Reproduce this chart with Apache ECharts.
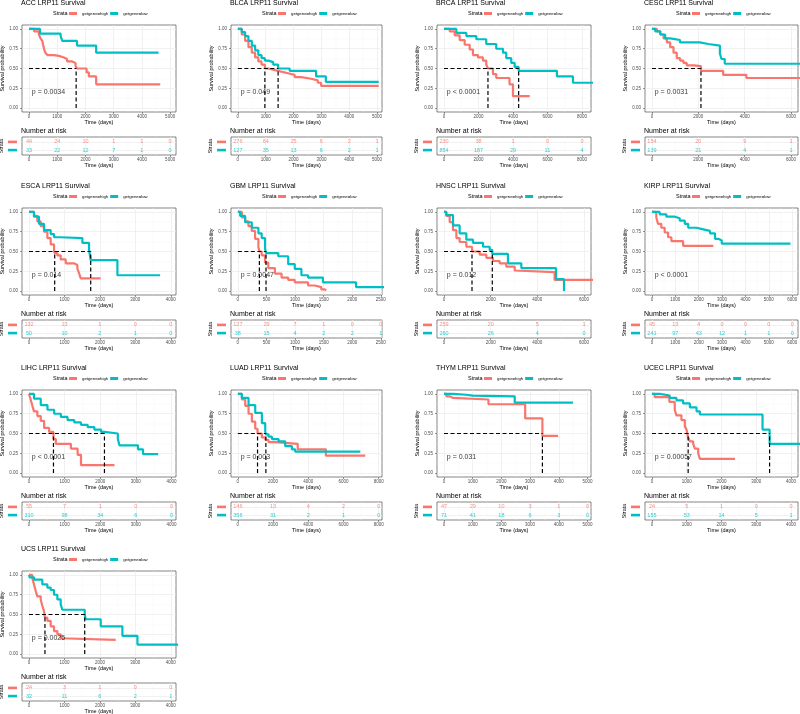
<!DOCTYPE html>
<html>
<head>
<meta charset="utf-8">
<script src="https://cdn.jsdelivr.net/npm/echarts@6/dist/echarts.min.js"></script>
<style>
  html, body { margin: 0; padding: 0; background: #fff; }
  #chart { width: 800px; height: 714px; }
</style>
</head>
<body>
<div id="chart"></div>
<script>
// ---- data ----
const cancers = ['ACC', 'BLCA', 'BRCA', 'CESC', 'ESCA', 'GBM', 'HNSC', 'KIRP', 'LIHC', 'LUAD', 'THYM', 'UCEC', 'UCS'];
const pValues = ['p = 0.0034', 'p = 0.049', 'p < 0.0001', 'p = 0.0031', 'p = 0.014', 'p = 0.0047', 'p = 0.012',
  'p < 0.0001', 'p < 0.0001', 'p = 0.003', 'p = 0.031', 'p = 0.00057', 'p = 0.0025'];
const groupNames = ['getgene=high', 'getgene=low'];

// upper limit of follow-up time in each panel (days)
const timeLimits = [4960, 4930, 8120, 6000, 3950, 2400, 6000, 5950, 3930, 7800, 4880, 4000, 3950];
const timeBreaks = [
  [0, 1000, 2000, 3000, 4000, 5000],
  [0, 1000, 2000, 3000, 4000, 5000],
  [0, 2000, 4000, 6000, 8000],
  [0, 2000, 4000, 6000],
  [0, 1000, 2000, 3000, 4000],
  [0, 500, 1000, 1500, 2000, 2500],
  [0, 2000, 4000, 6000],
  [0, 1000, 2000, 3000, 4000, 5000, 6000],
  [0, 1000, 2000, 3000, 4000],
  [0, 2000, 4000, 6000, 8000],
  [0, 1000, 2000, 3000, 4000, 5000],
  [0, 1000, 2000, 3000, 4000],
  [0, 1000, 2000, 3000, 4000]
];
const probBreaks = [0, 0.25, 0.5, 0.75, 1];

// Kaplan-Meier curves: [time, survival]
const accHigh = [[0,1],[180,0.97],[350,0.93],[410,0.88],[470,0.85],[500,0.80],[540,0.74],[580,0.70],[650,0.67],[880,0.66],[1060,0.64],[1240,0.62],[1350,0.59],[1530,0.57],[1650,0.53],[1700,0.50],[2040,0.45],[2120,0.40],[2380,0.30],[4650,0.30]];
const accLow = [[0,1],[390,0.94],[1120,0.91],[1180,0.85],[1700,0.79],[2380,0.70],[4590,0.70]];
const blcaHigh = [[0,1],[140,0.93],[260,0.85],[380,0.77],[500,0.70],[620,0.64],[735,0.59],[850,0.55],[970,0.50],[1090,0.48],[1330,0.46],[1560,0.44],[1800,0.42],[2040,0.39],[2280,0.37],[2630,0.35],[2870,0.32],[2990,0.28],[5060,0.28]];
const blcaLow = [[0,1],[140,0.96],[260,0.91],[380,0.85],[500,0.79],[620,0.73],[735,0.67],[850,0.63],[970,0.60],[1090,0.58],[1270,0.55],[1445,0.50],[1860,0.47],[2810,0.40],[3160,0.33],[5060,0.33]];
const brcaHigh = [[0,1],[330,0.97],[620,0.92],[910,0.86],[1200,0.80],[1490,0.74],[1680,0.67],[1970,0.64],[2260,0.60],[2450,0.55],[2550,0.50],[2840,0.43],[3030,0.38],[3800,0.30],[4000,0.15],[4970,0.15]];
const brcaLow = [[0,1],[715,0.95],[1295,0.91],[1875,0.87],[2450,0.81],[3030,0.75],[3420,0.70],[3610,0.63],[3900,0.57],[4100,0.52],[4330,0.47],[6550,0.40],[7480,0.32],[8700,0.32]];
const cescHigh = [[0,1],[214,0.97],[357,0.93],[500,0.88],[643,0.83],[786,0.77],[930,0.70],[1070,0.63],[1214,0.60],[1357,0.57],[1500,0.54],[1800,0.53],[2114,0.47],[3070,0.42],[4070,0.38],[6400,0.38]];
const cescLow = [[0,1],[140,0.97],[360,0.93],[570,0.88],[790,0.86],[1210,0.83],[2070,0.81],[2430,0.79],[2930,0.69],[3000,0.62],[3140,0.56],[6400,0.56]];
const escaHigh = [[0,1],[141,0.95],[235,0.88],[330,0.82],[424,0.75],[518,0.67],[612,0.59],[706,0.51],[725,0.48],[800,0.45],[894,0.40],[1035,0.35],[1270,0.33],[1365,0.28],[1410,0.23],[1460,0.16],[2020,0.16]];
const escaLow = [[0,1],[141,0.94],[282,0.85],[424,0.77],[612,0.72],[706,0.68],[894,0.67],[1506,0.61],[1694,0.52],[1741,0.39],[2494,0.20],[3700,0.20]];
const gbmHigh = [[0,1],[70,0.93],[127,0.88],[185,0.82],[243,0.76],[301,0.66],[359,0.56],[376,0.50],[417,0.45],[475,0.36],[532,0.29],[648,0.22],[764,0.17],[880,0.14],[995,0.11],[1227,0.07],[1343,0.05],[1458,0.02],[1516,0.01],[1545,0.01]];
const gbmLow = [[0,1],[40,0.95],[127,0.87],[243,0.80],[359,0.73],[417,0.67],[475,0.54],[492,0.48],[706,0.44],[880,0.34],[995,0.28],[1111,0.20],[1227,0.17],[1487,0.11],[2066,0.05],[2600,0.05]];
const hnscHigh = [[0,1],[100,0.95],[243,0.87],[386,0.77],[530,0.67],[670,0.62],[957,0.56],[1200,0.50],[1530,0.46],[1814,0.42],[2100,0.38],[2386,0.35],[2670,0.31],[3030,0.26],[3100,0.24],[4740,0.14],[6400,0.14]];
const hnscLow = [[0,1],[100,0.96],[386,0.83],[670,0.73],[957,0.65],[1243,0.61],[1671,0.56],[1957,0.52],[2070,0.47],[2740,0.35],[3314,0.29],[4800,0.15],[5143,0]];
const kirpHigh = [[0,1],[187,0.93],[258,0.85],[400,0.80],[545,0.74],[690,0.68],[832,0.63],[1334,0.57],[2625,0.57]];
const kirpLow = [[0,1],[330,0.97],[617,0.94],[976,0.92],[1190,0.89],[1406,0.85],[1550,0.80],[1908,0.78],[2195,0.76],[2482,0.73],[2697,0.66],[2840,0.64],[2984,0.60],[5925,0.60]];
const lihcHigh = [[0,1],[47,0.93],[94,0.85],[141,0.78],[235,0.72],[330,0.66],[424,0.57],[565,0.52],[687,0.43],[753,0.37],[1176,0.31],[1365,0.23],[1459,0.10],[2400,0.10]];
const lihcLow = [[0,1],[141,0.94],[330,0.86],[518,0.80],[706,0.75],[894,0.71],[1082,0.67],[1270,0.64],[1459,0.61],[1647,0.58],[1835,0.55],[2024,0.52],[2118,0.50],[2494,0.43],[2541,0.35],[3059,0.30],[3200,0.24],[3624,0.24]];
const luadHigh = [[0,1],[227,0.93],[417,0.85],[607,0.75],[796,0.65],[986,0.56],[1118,0.50],[1365,0.45],[1555,0.42],[1744,0.39],[2123,0.37],[3400,0.30],[5000,0.22],[7240,0.22]];
const luadLow = [[0,1],[227,0.95],[607,0.86],[986,0.76],[1365,0.63],[1555,0.53],[1592,0.49],[1744,0.46],[1934,0.43],[2313,0.40],[2692,0.34],[3071,0.30],[3260,0.27],[6956,0.27]];
const thymHigh = [[0,1],[81,0.97],[198,0.95],[314,0.93],[1550,0.87],[2830,0.69],[3430,0.47],[3977,0.47]];
const thymLow = [[0,1],[314,0.99],[779,0.98],[1000,0.97],[2465,0.89],[4500,0.89]];
const ucecHigh = [[0,1],[77,0.96],[500,0.90],[655,0.80],[704,0.73],[848,0.67],[945,0.59],[993,0.55],[1041,0.45],[1090,0.40],[1186,0.37],[1234,0.31],[1330,0.25],[1378,0.18],[2390,0.18]];
const ucecLow = [[0,1],[222,0.98],[510,0.95],[704,0.92],[896,0.88],[1090,0.83],[1282,0.78],[1378,0.74],[3180,0.55],[3383,0.37],[4300,0.37]];
const ucsHigh = [[0,1],[94,0.96],[141,0.88],[188,0.80],[235,0.73],[330,0.69],[376,0.61],[424,0.54],[450,0.46],[518,0.42],[612,0.35],[706,0.29],[800,0.25],[894,0.20],[941,0.18],[2447,0.18]];
const ucsLow = [[0,1],[20,0.97],[141,0.94],[376,0.88],[518,0.84],[612,0.81],[706,0.75],[800,0.69],[894,0.63],[941,0.56],[1572,0.50],[1600,0.44],[2024,0.35],[2635,0.23],[3059,0.12],[4300,0.12]];

const highCurves = [accHigh, blcaHigh, brcaHigh, cescHigh, escaHigh, gbmHigh, hnscHigh, kirpHigh, lihcHigh, luadHigh, thymHigh, ucecHigh, ucsHigh];
const lowCurves = [accLow, blcaLow, brcaLow, cescLow, escaLow, gbmLow, hnscLow, kirpLow, lihcLow, luadLow, thymLow, ucecLow, ucsLow];

// median survival [high, low] (null = not reached)
const medians = [[1670, null], [970, 1445], [2550, 4330], [2114, null], [725, 1741], [376, 492], [1200, 2070],
  [null, null], [687, 2118], [1118, 1592], [3430, null], [1041, 3383], [450, 1572]];

// number at risk at each time break
const riskHigh = [[44,24,10,1,1,0],[276,64,25,6,2,1],[230,38,1,0,0],[154,20,9,1],[132,13,1,0,0],[127,29,7,1,0,0],
  [259,20,5,1],[45,13,4,0,0,0,0],[55,7,1,0,0],[146,13,4,2,0],[47,29,10,3,1,0],[24,5,1,0,0],[24,3,1,0,0]];
const riskLow = [[33,22,12,7,1,0],[127,35,13,6,2,1],[854,187,29,11,4],[139,21,4,1],[50,10,2,1,0],[38,15,4,2,2,1],
  [260,26,4,0],[241,97,43,12,1,1,0],[310,98,34,6,0],[356,31,2,1,0],[71,41,18,6,3,0],[155,53,14,5,1],[32,11,6,2,1]];

// ---- layout ----
const RED = '#F8766D', CYAN = '#00BFC4';
const FONT = '"Liberation Sans", Arial, sans-serif';
const COL_LEFT = [22, 231, 437, 645];
const COL_WIDTH = [154, 151, 154, 153];
const ROW_TOP = [25, 208, 390, 571];
const PLOT_H = 87, TABLE_OFF = 112, TABLE_H = 18;

const chart = echarts.init(document.getElementById('chart'));

const option = {
  animation: false,
  backgroundColor: '#fff',
  title: [], legend: [], grid: [], xAxis: [], yAxis: [], series: []
};

const tickStyle = { color: '#333', width: 0.5 };
const labelStyle = { fontSize: 4.5, color: '#4D4D4D', fontFamily: FONT };
const nameStyle = { fontSize: 5.5, color: '#000', fontFamily: FONT };
const majorGrid = { show: true, lineStyle: { color: '#EBEBEB', width: 0.7 } };
const minorGrid = { show: true, lineStyle: { color: '#F4F4F4', width: 0.4 } };
const plainNumber = v => String(Math.round(v));

cancers.forEach((name, i) => {
  const col = i % 4, row = Math.floor(i / 4);
  const L = COL_LEFT[col], W = COL_WIDTH[col], T = ROW_TOP[row];
  const X = timeLimits[i];
  const br = timeBreaks[i];
  const step = br[1] - br[0];
  const minor = br.map(b => b + step / 2);
  const xMin = -0.05 * X, xMax = 1.05 * X;

  const g = option.grid.length;
  option.grid.push({ left: L, top: T, width: W, height: PLOT_H, show: true, backgroundColor: '#fff',
    borderColor: '#333', borderWidth: 0.6, outerBoundsMode: 'none' });
  option.grid.push({ left: L, top: T + TABLE_OFF, width: W, height: TABLE_H, show: true, backgroundColor: '#fff',
    borderColor: '#333', borderWidth: 0.6, outerBoundsMode: 'none' });

  // titles, legend, headings
  option.title.push({ text: name + ' LRP11 Survival', left: L - 1, top: T - 25, padding: 0,
    textStyle: { fontSize: 7, fontWeight: 'normal', color: '#000', fontFamily: FONT } });
  option.title.push({ text: 'Strata', left: L + 31, top: T - 14.5, padding: 0,
    textStyle: { fontSize: 5.5, fontWeight: 'normal', color: '#000', fontFamily: FONT } });
  option.title.push({ text: 'Number at risk', left: L - 1, top: T + 103, padding: 0,
    textStyle: { fontSize: 7, fontWeight: 'normal', color: '#000', fontFamily: FONT } });
  option.legend.push({ data: groupNames, left: L + 47, top: T - 13.5, padding: 0, itemWidth: 8, itemHeight: 3,
    itemGap: 2, icon: 'rect', selectedMode: false,
    textStyle: { fontSize: 4.3, color: '#000', fontFamily: FONT } });

  const xa = option.xAxis.length, ya = option.yAxis.length;
  const xBase = { type: 'value', min: xMin, max: xMax, axisLine: { show: false, onZero: false } };

  // survival plot axes
  option.xAxis.push(Object.assign({}, xBase, { gridIndex: g, position: 'bottom',
    name: 'Time (days)', nameLocation: 'middle', nameGap: 7, nameTextStyle: nameStyle,
    axisTick: { show: true, length: 2, customValues: br, lineStyle: tickStyle },
    axisLabel: Object.assign({ customValues: br, margin: 2, formatter: plainNumber }, labelStyle),
    splitLine: majorGrid }));
  option.xAxis.push(Object.assign({}, xBase, { gridIndex: g, position: 'top',
    axisTick: { show: false, customValues: minor }, axisLabel: { show: false }, splitLine: minorGrid }));
  option.yAxis.push({ type: 'value', gridIndex: g, min: -0.05, max: 1.05, position: 'left',
    axisLine: { show: false, onZero: false },
    name: 'Survival probability', nameLocation: 'middle', nameRotate: 90, nameGap: 16, nameTextStyle: nameStyle,
    axisTick: { show: true, length: 2, customValues: probBreaks, lineStyle: tickStyle },
    axisLabel: Object.assign({ customValues: probBreaks, margin: 4, formatter: v => v.toFixed(2) }, labelStyle),
    splitLine: majorGrid });
  option.yAxis.push({ type: 'value', gridIndex: g, min: -0.05, max: 1.05, position: 'right',
    axisLine: { show: false, onZero: false },
    axisTick: { show: false, customValues: [0.125, 0.375, 0.625, 0.875] }, axisLabel: { show: false },
    splitLine: minorGrid });

  // risk table axes
  option.xAxis.push(Object.assign({}, xBase, { gridIndex: g + 1, position: 'bottom',
    name: 'Time (days)', nameLocation: 'middle', nameGap: 6, nameTextStyle: nameStyle,
    axisTick: { show: true, length: 2, customValues: br, lineStyle: tickStyle },
    axisLabel: Object.assign({ customValues: br, margin: 2, formatter: plainNumber }, labelStyle),
    splitLine: majorGrid }));
  option.xAxis.push(Object.assign({}, xBase, { gridIndex: g + 1, position: 'top',
    axisTick: { show: false, customValues: minor }, axisLabel: { show: false }, splitLine: minorGrid }));
  option.yAxis.push({ type: 'value', gridIndex: g + 1, min: 0.4, max: 2.6, position: 'left',
    axisLine: { show: false, onZero: false },
    name: 'Strata', nameLocation: 'middle', nameRotate: 90, nameGap: 16, nameTextStyle: nameStyle,
    axisTick: { show: false, customValues: [1, 2] },
    axisLabel: { customValues: [1, 2], margin: 5, fontSize: 2, lineHeight: 3, hideOverlap: false,
      formatter: v => (Math.round(v) === 2 ? '{h|}' : '{l|}'),
      rich: { h: { width: 9, height: 2.6, lineHeight: 3, backgroundColor: RED },
              l: { width: 9, height: 2.6, lineHeight: 3, backgroundColor: CYAN } } },
    splitLine: majorGrid });

  // survival curves
  [[highCurves[i], RED, groupNames[0]], [lowCurves[i], CYAN, groupNames[1]]].forEach(([data, color, sname]) => {
    option.series.push({ type: 'line', name: sname, xAxisIndex: xa, yAxisIndex: ya, data: data, step: 'end',
      showSymbol: false, symbol: 'none', silent: true, z: 2,
      lineStyle: { color: color, width: 2.2 }, itemStyle: { color: color } });
  });

  // median survival lines
  const med = medians[i].filter(v => v !== null);
  if (med.length) {
    const dash = { color: '#000', width: 1.2, type: [4, 2.5] };
    option.series.push({ type: 'line', xAxisIndex: xa, yAxisIndex: ya, silent: true, z: 3, symbol: 'none',
      data: [[0, 0.5], [Math.max(...med), 0.5]], lineStyle: dash });
    med.forEach(m => {
      option.series.push({ type: 'line', xAxisIndex: xa, yAxisIndex: ya, silent: true, z: 3, symbol: 'none',
        data: [[m, 0], [m, 0.5]], lineStyle: dash });
    });
  }

  // p-value
  option.series.push({ type: 'scatter', xAxisIndex: xa, yAxisIndex: ya, silent: true, z: 4, symbolSize: 0.1,
    itemStyle: { color: 'rgba(0,0,0,0)' }, data: [[X / 50, 0.2]],
    label: { show: true, position: 'right', distance: 0, formatter: pValues[i], fontSize: 7, color: '#000', fontFamily: FONT } });

  // numbers at risk
  [[riskHigh[i], 2, RED], [riskLow[i], 1, CYAN]].forEach(([vals, yv, color]) => {
    option.series.push({ type: 'scatter', xAxisIndex: xa + 2, yAxisIndex: ya + 2, silent: true, z: 4, symbolSize: 0.1,
      itemStyle: { color: 'rgba(0,0,0,0)' }, data: vals.map((n, k) => [br[k], yv, n]),
      label: { show: true, position: 'inside', formatter: p => String(p.value[2]), fontSize: 5.5, color: color, fontFamily: FONT } });
  });
});

chart.setOption(option);
</script>
</body>
</html>
